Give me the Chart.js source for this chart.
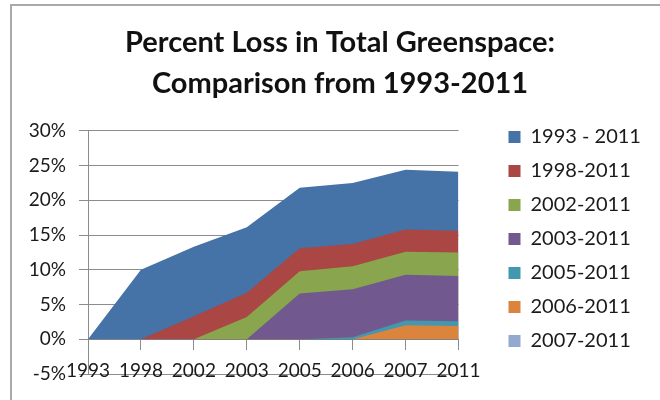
<!DOCTYPE html>
<html>
<head>
<meta charset="utf-8">
<script src="https://cdn.jsdelivr.net/npm/chart.js@4.4.0/dist/chart.umd.min.js"></script>
<style>
  body { margin: 0; background: #fff; }
  #wrap { position: relative; width: 660px; height: 400px; }
  #frame { position: absolute; left: 10px; top: 4px; right: 0; bottom: 0; border-top: 2px solid #a9a9a9; border-left: 2px solid #a9a9a9; pointer-events: none; }
</style>
</head>
<body>
<div id="wrap">
  <canvas id="greenspaceChart" width="660" height="400"></canvas>
  <div id="frame"></div>
</div>
<script>
const years = ['1993', '1998', '2002', '2003', '2005', '2006', '2007', '2011'];
const seriesNames = ['1993 - 2011', '1998-2011', '2002-2011', '2003-2011', '2005-2011', '2006-2011', '2007-2011'];
const loss1993 = [0, 10.0, 13.3, 16.1, 21.8, 22.5, 24.4, 24.1];
const loss1998 = [0, 0, 3.3, 6.7, 13.1, 13.7, 15.8, 15.6];
const loss2002 = [0, 0, 0, 3.2, 9.8, 10.5, 12.6, 12.5];
const loss2003 = [0, 0, 0, 0, 6.6, 7.2, 9.3, 9.1];
const loss2005 = [0, 0, 0, 0, 0, 0.3, 2.7, 2.6];
const loss2006 = [0, 0, 0, 0, 0, 0, 2.0, 1.9];
const loss2007 = [0, 0, 0, 0, 0, 0, 0, 0];
const yTicks = [-5, 0, 5, 10, 15, 20, 25, 30];

const colors = ['#4572a7', '#aa4643', '#89a54e', '#71588f', '#4198af', '#db843d', '#93a9cf'];
const allSeries = [loss1993, loss1998, loss2002, loss2003, loss2005, loss2006, loss2007];

const textFont = "Lato, 'Open Sans', sans-serif";

// nudge title and legend to where the original puts them
const boxShift = {
    id: 'boxShift',
    afterLayout(chart) {
        const lg = chart.legend;
        lg.left += 36; lg.right += 90;
        lg.top += 52; lg.bottom += 52;
        chart.titleBlock.left += 25;
        chart.titleBlock.right += 25;
    }
};

const ctx = document.getElementById('greenspaceChart').getContext('2d');
const greenspaceChart = new Chart(ctx, {
    type: 'line',
    data: {
        labels: years,
        datasets: allSeries.map((values, i) => ({
            label: seriesNames[i],
            data: values,
            backgroundColor: colors[i],
            borderColor: colors[i],
            borderWidth: 0,
            pointRadius: 0,
            fill: 'origin',
            tension: 0,
            order: allSeries.length - i
        }))
    },
    options: {
        responsive: false,
        animation: false,
        layout: {
            padding: { left: 28, right: 58, top: 0, bottom: 26 }
        },
        scales: {
            x: {
                position: { y: 0 },
                offset: false,
                grid: {
                    drawOnChartArea: false,
                    drawTicks: true,
                    tickLength: 10,
                    color: '#8c8c8c'
                },
                border: { color: '#8c8c8c' },
                ticks: {
                    autoSkip: false,
                    maxRotation: 0,
                    padding: 10,
                    color: '#1a1a1a',
                    font: { family: textFont, size: 19 }
                }
            },
            y: {
                min: -5,
                max: 30,
                afterFit(scale) { scale.width = 60; },
                afterBuildTicks(scale) { scale.ticks = yTicks.map(v => ({ value: v })); },
                grid: { color: '#8c8c8c', tickLength: 9 },
                border: { color: '#8c8c8c' },
                ticks: {
                    padding: 13,
                    color: '#1a1a1a',
                    font: { family: textFont, size: 19 },
                    callback: v => v + '%'
                }
            }
        },
        plugins: {
            title: {
                display: true,
                text: ['Percent Loss in Total Greenspace:', 'Comparison from 1993-2011'],
                color: '#111',
                font: { family: textFont, size: 29, weight: 'bold', lineHeight: 1.41 },
                padding: { top: 22, bottom: 27 }
            },
            legend: {
                position: 'right',
                labels: {
                    boxWidth: 12,
                    boxHeight: 12,
                    padding: 14,
                    color: '#1a1a1a',
                    font: { family: textFont, size: 20 },
                    sort: (a, b) => a.datasetIndex - b.datasetIndex
                }
            },
            tooltip: { enabled: false }
        }
    },
    plugins: [boxShift]
});
</script>
</body>
</html>
